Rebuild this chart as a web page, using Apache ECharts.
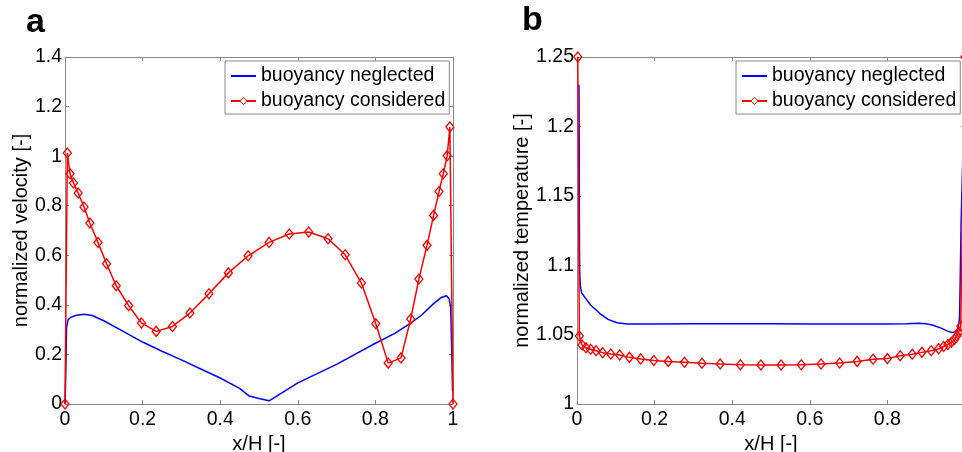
<!DOCTYPE html>
<html>
<head>
<meta charset="utf-8">
<script src="https://cdn.jsdelivr.net/npm/echarts/dist/echarts.min.js"></script>
<style>
html,body{margin:0;padding:0;background:#fff;}
#c{width:962px;height:452px;}
</style>
</head>
<body>
<div id="c"></div>
<script>
// ---------- data (panel a: normalized velocity) ----------
var velConsX = [0, 0.006, 0.013, 0.022, 0.034, 0.049, 0.064, 0.085, 0.107, 0.132, 0.164, 0.197, 0.235, 0.277, 0.322, 0.371, 0.421, 0.472, 0.526, 0.578, 0.628, 0.678, 0.722, 0.764, 0.801, 0.833, 0.866, 0.891, 0.912, 0.933, 0.950, 0.964, 0.975, 0.985, 0.992, 1.0];
var velConsY = [0, 1.013, 0.929, 0.892, 0.851, 0.795, 0.730, 0.652, 0.566, 0.477, 0.397, 0.327, 0.293, 0.313, 0.367, 0.445, 0.529, 0.598, 0.652, 0.686, 0.694, 0.667, 0.602, 0.488, 0.324, 0.165, 0.186, 0.343, 0.504, 0.640, 0.761, 0.857, 0.929, 1.002, 1.118, 0];
var velNegX = [0, 0.002, 0.004, 0.008, 0.015, 0.03, 0.05, 0.07, 0.1, 0.15, 0.2, 0.25, 0.3, 0.35, 0.4, 0.45, 0.475, 0.5, 0.526, 0.6, 0.7, 0.8, 0.85, 0.89, 0.92, 0.95, 0.97, 0.983, 0.99, 0.994, 0.997, 0.999];
var velNegY = [0, 0.12, 0.31, 0.34, 0.35, 0.358, 0.362, 0.357, 0.336, 0.293, 0.25, 0.213, 0.178, 0.141, 0.105, 0.063, 0.032, 0.022, 0.013, 0.085, 0.16, 0.245, 0.285, 0.325, 0.36, 0.405, 0.43, 0.437, 0.425, 0.39, 0.2, 0.05];

// ---------- data (panel b: normalized temperature) ----------
var tempConsX = [0.002, 0.006, 0.013, 0.023, 0.035, 0.049, 0.066, 0.087, 0.110, 0.135, 0.164, 0.198, 0.235, 0.277, 0.322, 0.369, 0.421, 0.474, 0.526, 0.578, 0.629, 0.677, 0.722, 0.763, 0.800, 0.833, 0.864, 0.889, 0.913, 0.932, 0.945, 0.956, 0.965, 0.973, 0.979, 0.984, 0.989, 1.0];
var tempConsY = [1.25, 1.049, 1.0425, 1.0405, 1.0394, 1.0384, 1.037, 1.036, 1.0353, 1.0336, 1.0325, 1.0314, 1.0307, 1.0301, 1.0293, 1.0288, 1.0283, 1.0281, 1.0281, 1.0283, 1.0288, 1.0295, 1.0307, 1.0322, 1.0327, 1.0348, 1.0359, 1.0372, 1.0384, 1.0398, 1.0414, 1.0428, 1.0445, 1.0464, 1.049, 1.052, 1.056, 1.25];
var tempNegX = [0.005, 0.0055, 0.006, 0.0065, 0.007, 0.0085, 0.012, 0.02, 0.035, 0.06, 0.08, 0.103, 0.13, 0.2, 0.3, 0.4, 0.5, 0.6, 0.7, 0.8, 0.85, 0.88, 0.9, 0.92, 0.94, 0.955, 0.965, 0.975, 0.982, 0.986, 0.99, 1.0];
var tempNegY = [1.23, 1.2, 1.15, 1.11, 1.095, 1.085, 1.08, 1.077, 1.0713, 1.065, 1.061, 1.0585, 1.0576, 1.0577, 1.0578, 1.0578, 1.0578, 1.0577, 1.0577, 1.0577, 1.0579, 1.0582, 1.0579, 1.0565, 1.0545, 1.0525, 1.0516, 1.0518, 1.0533, 1.062, 1.13, 1.24];

// ---------- axis ticks / labels ----------
var xTicks = [0, 0.2, 0.4, 0.6, 0.8, 1];
var velTicks = [0, 0.2, 0.4, 0.6, 0.8, 1, 1.2, 1.4];
var tempTicks = [1, 1.05, 1.1, 1.15, 1.2, 1.25];
var seriesNames = ['buoyancy neglected', 'buoyancy considered'];
var xName = 'x/H [-]';
var velName = 'normalized velocity [-]';
var tempName = 'normalized temperature [-]';
var panelLetters = ['a', 'b'];

function pairs(xs, ys) { return xs.map(function (x, i) { return [x, ys[i]]; }); }
function fmt(v) { return String(+(+v).toFixed(2)); }

var FONT = 'Liberation Sans, Arial, Helvetica, sans-serif';
var GRAY = '#888888';
var BLUE = '#0000ff';
var RED = '#ff0000';

function xAx(gi, ticks, pos, named, showMax) {
  return {
    type: 'value', gridIndex: gi, position: pos,
    min: ticks[0], max: ticks[ticks.length - 1], interval: ticks[1] - ticks[0],
    axisLine: { show: true, onZero: false, lineStyle: { color: GRAY, width: 1 } },
    axisTick: { show: true, inside: true, length: 4, lineStyle: { color: GRAY } },
    splitLine: { show: false },
    axisLabel: { show: named, color: '#000', fontFamily: FONT, fontSize: 19.5, margin: 6, formatter: fmt, showMaxLabel: showMax, showMinLabel: true },
    name: named ? xName : '', nameLocation: 'middle', nameGap: 22,
    nameTextStyle: { color: '#000', fontFamily: FONT, fontSize: 20 }
  };
}
function yAx(gi, ticks, pos, name, gap) {
  return {
    type: 'value', gridIndex: gi, position: pos,
    min: ticks[0], max: ticks[ticks.length - 1], interval: +(ticks[1] - ticks[0]).toFixed(4),
    axisLine: { show: true, onZero: false, lineStyle: { color: GRAY, width: 1 } },
    axisTick: { show: true, inside: true, length: 4, lineStyle: { color: GRAY } },
    splitLine: { show: false },
    axisLabel: { show: !!name, color: '#000', fontFamily: FONT, fontSize: 19.5, margin: 3, formatter: fmt, showMaxLabel: true, showMinLabel: true },
    name: name || '', nameLocation: 'middle', nameGap: gap || 0, nameRotate: 90,
    nameTextStyle: { color: '#000', fontFamily: FONT, fontSize: 20 }
  };
}
function negSeries(xi, yi, data) {
  return { name: seriesNames[0], type: 'line', xAxisIndex: xi, yAxisIndex: yi, data: data,
    showSymbol: false, symbol: 'none', lineStyle: { color: BLUE, width: 1.5 }, itemStyle: { color: BLUE },
    animation: false, silent: true, z: 2 };
}
function consSeries(xi, yi, data) {
  return { name: seriesNames[1], type: 'line', xAxisIndex: xi, yAxisIndex: yi, data: data,
    symbol: 'diamond', symbolSize: [8, 10], showSymbol: true, showAllSymbol: true,
    lineStyle: { color: RED, width: 1.5 },
    itemStyle: { color: 'rgba(255,255,255,0)', borderColor: RED, borderWidth: 1.3 },
    animation: false, silent: true, z: 3 };
}
function legendAt(left) {
  return { left: left, top: 61, orient: 'vertical', selectedMode: false,
    itemWidth: 25, itemHeight: 9, itemGap: 5, padding: [5, 4, 3, 5],
    borderColor: GRAY, borderWidth: 1, backgroundColor: '#fff',
    textStyle: { color: '#000', fontFamily: FONT, fontSize: 19.5 },
    data: [
      { name: seriesNames[0], itemStyle: { opacity: 0 } },
      { name: seriesNames[1], itemStyle: { color: '#fff', borderColor: RED, borderWidth: 1 } }
    ] };
}

var chart = echarts.init(document.getElementById('c'), null, { renderer: 'canvas' });
chart.setOption({
  backgroundColor: '#fff',
  animation: false,
  grid: [
    { left: 65, top: 57, width: 388, height: 347, outerBoundsMode: 'none', containLabel: false },
    { left: 577, top: 57, width: 388, height: 347, outerBoundsMode: 'none', containLabel: false }
  ],
  xAxis: [
    xAx(0, xTicks, 'bottom', true, true),
    xAx(0, xTicks, 'top', false, true),
    xAx(1, xTicks, 'bottom', true, false),
    xAx(1, xTicks, 'top', false, true)
  ],
  yAxis: [
    yAx(0, velTicks, 'left', velName, 34),
    yAx(0, velTicks, 'right', null),
    yAx(1, tempTicks, 'left', tempName, 45),
    yAx(1, tempTicks, 'right', null)
  ],
  legend: [legendAt(225), legendAt(736)],
  series: [
    negSeries(0, 0, pairs(velNegX, velNegY)),
    consSeries(0, 0, pairs(velConsX, velConsY)),
    negSeries(2, 2, pairs(tempNegX, tempNegY)),
    consSeries(2, 2, pairs(tempConsX, tempConsY))
  ],
  graphic: [
    { type: 'text', left: 26, top: 6, style: { text: panelLetters[0], font: 'bold 34px ' + FONT, fill: '#000' } },
    { type: 'text', left: 522, top: 4, style: { text: panelLetters[1], font: 'bold 34px ' + FONT, fill: '#000' } }
  ]
});
</script>
</body>
</html>
